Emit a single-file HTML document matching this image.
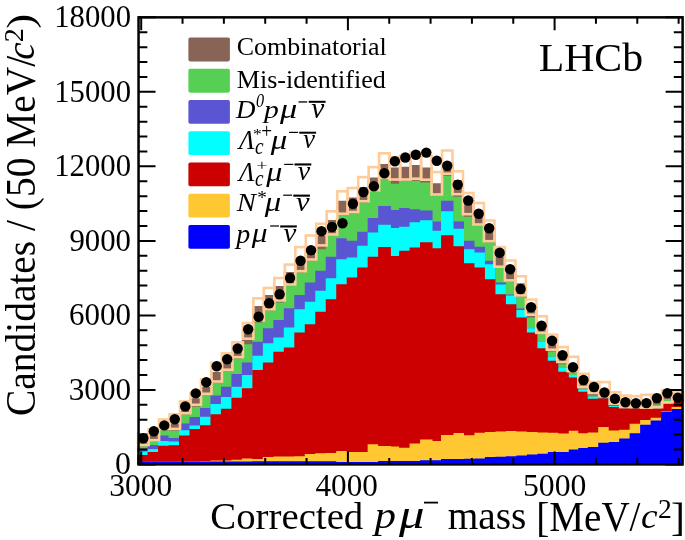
<!DOCTYPE html>
<html><head><meta charset="utf-8">
<style>
html,body{margin:0;padding:0;background:#fff;}
body{width:685px;height:540px;overflow:hidden;}
svg{display:block;}
text{font-family:"Liberation Serif",serif;fill:#000;}
</style></head><body>
<svg width="685" height="540" viewBox="0 0 685 540">
<rect width="685" height="540" fill="#fff"/>
<path d="M137.10,464.40 L137.10,441.00 L147.58,441.00 L147.58,434.50 L158.06,434.50 L158.06,426.00 L168.54,426.00 L168.54,423.60 L179.02,423.60 L179.02,408.00 L189.50,408.00 L189.50,398.30 L199.98,398.30 L199.98,387.00 L210.46,387.00 L210.46,372.00 L220.94,372.00 L220.94,361.50 L231.42,361.50 L231.42,352.00 L241.90,352.00 L241.90,331.00 L252.38,331.00 L252.38,306.00 L262.86,306.00 L262.86,295.00 L273.34,295.00 L273.34,286.00 L283.82,286.00 L283.82,272.00 L294.30,272.00 L294.30,262.00 L304.78,262.00 L304.78,251.00 L315.26,251.00 L315.26,236.00 L325.74,236.00 L325.74,220.00 L336.22,220.00 L336.22,200.80 L346.70,200.80 L346.70,197.50 L357.18,197.50 L357.18,187.00 L367.66,187.00 L367.66,177.50 L378.14,177.50 L378.14,164.00 L390.92,164.00 L390.92,167.50 L399.10,167.50 L399.10,166.70 L409.58,166.70 L409.58,165.00 L420.06,165.00 L420.06,167.50 L432.54,167.50 L432.54,183.30 L441.02,183.30 L441.02,162.00 L453.50,162.00 L453.50,180.00 L463.98,180.00 L463.98,200.00 L474.46,200.00 L474.46,210.00 L484.94,210.00 L484.94,228.00 L495.42,228.00 L495.42,256.70 L505.90,256.70 L505.90,268.00 L516.38,268.00 L516.38,283.30 L526.86,283.30 L526.86,307.00 L537.34,307.00 L537.34,325.00 L547.82,325.00 L547.82,345.00 L558.30,345.00 L558.30,355.00 L568.78,355.00 L568.78,366.00 L578.26,366.00 L578.26,381.00 L587.74,381.00 L587.74,388.00 L598.22,388.00 L598.22,390.00 L608.70,390.00 L608.70,399.00 L619.18,399.00 L619.18,402.00 L629.66,402.00 L629.66,402.00 L640.14,402.00 L640.14,401.00 L650.62,401.00 L650.62,398.00 L661.10,398.00 L661.10,394.00 L671.58,394.00 L671.58,396.00 L682.06,396.00 L682.06,464.40 Z" fill="#876455"/>
<path d="M137.10,464.40 L137.10,446.30 L147.58,446.30 L147.58,441.30 L158.06,441.30 L158.06,430.20 L168.54,430.20 L168.54,430.80 L179.02,430.80 L179.02,414.50 L189.50,414.50 L189.50,406.70 L199.98,406.70 L199.98,395.10 L210.46,395.10 L210.46,382.80 L220.94,382.80 L220.94,371.00 L231.42,371.00 L231.42,358.40 L241.90,358.40 L241.90,344.20 L252.38,344.20 L252.38,322.50 L262.86,322.50 L262.86,310.50 L273.34,310.50 L273.34,302.50 L283.82,302.50 L283.82,285.80 L294.30,285.80 L294.30,272.50 L304.78,272.50 L304.78,260.80 L315.26,260.80 L315.26,249.20 L325.74,249.20 L325.74,235.80 L336.22,235.80 L336.22,215.00 L346.70,215.00 L346.70,213.30 L357.18,213.30 L357.18,202.50 L367.66,202.50 L367.66,191.70 L378.14,191.70 L378.14,179.20 L390.92,179.20 L390.92,183.70 L399.10,183.70 L399.10,180.80 L409.58,180.80 L409.58,180.80 L420.06,180.80 L420.06,182.50 L432.54,182.50 L432.54,195.80 L441.02,195.80 L441.02,175.80 L453.50,175.80 L453.50,196.70 L463.98,196.70 L463.98,216.70 L474.46,216.70 L474.46,225.80 L484.94,225.80 L484.94,242.50 L495.42,242.50 L495.42,268.00 L505.90,268.00 L505.90,282.00 L516.38,282.00 L516.38,296.70 L526.86,296.70 L526.86,317.50 L537.34,317.50 L537.34,334.20 L547.82,334.20 L547.82,351.50 L558.30,351.50 L558.30,364.20 L568.78,364.20 L568.78,372.50 L578.26,372.50 L578.26,388.50 L587.74,388.50 L587.74,395.50 L598.22,395.50 L598.22,397.50 L608.70,397.50 L608.70,405.90 L619.18,405.90 L619.18,408.30 L629.66,408.30 L629.66,408.30 L640.14,408.30 L640.14,408.90 L650.62,408.90 L650.62,404.40 L661.10,404.40 L661.10,399.00 L671.58,399.00 L671.58,401.70 L682.06,401.70 L682.06,464.40 Z" fill="#55d055"/>
<path d="M137.10,464.40 L137.10,448.50 L147.58,448.50 L147.58,445.10 L158.06,445.10 L158.06,435.60 L168.54,435.60 L168.54,438.00 L179.02,438.00 L179.02,423.60 L189.50,423.60 L189.50,416.90 L199.98,416.90 L199.98,408.00 L210.46,408.00 L210.46,395.40 L220.94,395.40 L220.94,386.70 L231.42,386.70 L231.42,374.10 L241.90,374.10 L241.90,362.50 L252.38,362.50 L252.38,341.70 L262.86,341.70 L262.86,328.30 L273.34,328.30 L273.34,320.00 L283.82,320.00 L283.82,308.30 L294.30,308.30 L294.30,295.00 L304.78,295.00 L304.78,282.50 L315.26,282.50 L315.26,270.80 L325.74,270.80 L325.74,256.70 L336.22,256.70 L336.22,238.30 L346.70,238.30 L346.70,240.80 L357.18,240.80 L357.18,231.70 L367.66,231.70 L367.66,218.00 L378.14,218.00 L378.14,206.00 L390.92,206.00 L390.92,209.90 L399.10,209.90 L399.10,208.00 L409.58,208.00 L409.58,209.30 L420.06,209.30 L420.06,210.60 L432.54,210.60 L432.54,221.60 L441.02,221.60 L441.02,200.80 L453.50,200.80 L453.50,221.60 L463.98,221.60 L463.98,240.80 L474.46,240.80 L474.46,246.70 L484.94,246.70 L484.94,260.80 L495.42,260.80 L495.42,282.50 L505.90,282.50 L505.90,294.50 L516.38,294.50 L516.38,308.50 L526.86,308.50 L526.86,328.30 L537.34,328.30 L537.34,341.70 L547.82,341.70 L547.82,356.70 L558.30,356.70 L558.30,367.50 L568.78,367.50 L568.78,375.00 L578.26,375.00 L578.26,389.20 L587.74,389.20 L587.74,396.70 L598.22,396.70 L598.22,397.50 L608.70,397.50 L608.70,405.90 L619.18,405.90 L619.18,408.30 L629.66,408.30 L629.66,408.30 L640.14,408.30 L640.14,408.90 L650.62,408.90 L650.62,408.50 L661.10,408.50 L661.10,403.70 L671.58,403.70 L671.58,401.70 L682.06,401.70 L682.06,464.40 Z" fill="#5a55d2"/>
<path d="M137.10,464.40 L137.10,451.60 L147.58,451.60 L147.58,449.00 L158.06,449.00 L158.06,441.00 L168.54,441.00 L168.54,441.60 L179.02,441.60 L179.02,430.20 L189.50,430.20 L189.50,425.40 L199.98,425.40 L199.98,416.70 L210.46,416.70 L210.46,404.00 L220.94,404.00 L220.94,397.00 L231.42,397.00 L231.42,386.70 L241.90,386.70 L241.90,375.00 L252.38,375.00 L252.38,355.80 L262.86,355.80 L262.86,343.30 L273.34,343.30 L273.34,337.50 L283.82,337.50 L283.82,327.50 L294.30,327.50 L294.30,309.20 L304.78,309.20 L304.78,301.70 L315.26,301.70 L315.26,290.80 L325.74,290.80 L325.74,278.30 L336.22,278.30 L336.22,259.20 L346.70,259.20 L346.70,257.50 L357.18,257.50 L357.18,245.80 L367.66,245.80 L367.66,232.50 L378.14,232.50 L378.14,224.80 L390.92,224.80 L390.92,228.10 L399.10,228.10 L399.10,226.80 L409.58,226.80 L409.58,222.20 L420.06,222.20 L420.06,220.30 L432.54,220.30 L432.54,230.70 L441.02,230.70 L441.02,211.20 L453.50,211.20 L453.50,228.70 L463.98,228.70 L463.98,249.20 L474.46,249.20 L474.46,252.50 L484.94,252.50 L484.94,264.20 L495.42,264.20 L495.42,284.50 L505.90,284.50 L505.90,295.50 L516.38,295.50 L516.38,310.00 L526.86,310.00 L526.86,328.30 L537.34,328.30 L537.34,341.70 L547.82,341.70 L547.82,356.70 L558.30,356.70 L558.30,367.50 L568.78,367.50 L568.78,375.00 L578.26,375.00 L578.26,389.20 L587.74,389.20 L587.74,396.70 L598.22,396.70 L598.22,397.50 L608.70,397.50 L608.70,405.90 L619.18,405.90 L619.18,408.30 L629.66,408.30 L629.66,408.30 L640.14,408.30 L640.14,408.90 L650.62,408.90 L650.62,408.50 L661.10,408.50 L661.10,403.70 L671.58,403.70 L671.58,401.70 L682.06,401.70 L682.06,464.40 Z" fill="#00ffff"/>
<path d="M137.10,464.40 L137.10,455.00 L147.58,455.00 L147.58,452.00 L158.06,452.00 L158.06,445.80 L168.54,445.80 L168.54,445.20 L179.02,445.20 L179.02,435.60 L189.50,435.60 L189.50,429.00 L199.98,429.00 L199.98,425.30 L210.46,425.30 L210.46,414.30 L220.94,414.30 L220.94,408.80 L231.42,408.80 L231.42,397.80 L241.90,397.80 L241.90,388.30 L252.38,388.30 L252.38,370.00 L262.86,370.00 L262.86,362.50 L273.34,362.50 L273.34,351.70 L283.82,351.70 L283.82,347.50 L294.30,347.50 L294.30,332.50 L304.78,332.50 L304.78,324.20 L315.26,324.20 L315.26,311.70 L325.74,311.70 L325.74,299.20 L336.22,299.20 L336.22,284.20 L346.70,284.20 L346.70,277.50 L357.18,277.50 L357.18,267.50 L367.66,267.50 L367.66,256.70 L378.14,256.70 L378.14,246.90 L390.92,246.90 L390.92,256.00 L399.10,256.00 L399.10,250.80 L409.58,250.80 L409.58,247.50 L420.06,247.50 L420.06,242.30 L432.54,242.30 L432.54,248.20 L441.02,248.20 L441.02,235.20 L453.50,235.20 L453.50,246.20 L463.98,246.20 L463.98,263.30 L474.46,263.30 L474.46,267.50 L484.94,267.50 L484.94,279.20 L495.42,279.20 L495.42,294.20 L505.90,294.20 L505.90,304.20 L516.38,304.20 L516.38,317.50 L526.86,317.50 L526.86,332.50 L537.34,332.50 L537.34,348.30 L547.82,348.30 L547.82,360.80 L558.30,360.80 L558.30,371.70 L568.78,371.70 L568.78,377.50 L578.26,377.50 L578.26,391.70 L587.74,391.70 L587.74,398.70 L598.22,398.70 L598.22,398.30 L608.70,398.30 L608.70,407.10 L619.18,407.10 L619.18,408.30 L629.66,408.30 L629.66,408.30 L640.14,408.30 L640.14,408.90 L650.62,408.90 L650.62,408.50 L661.10,408.50 L661.10,403.70 L671.58,403.70 L671.58,401.70 L682.06,401.70 L682.06,464.40 Z" fill="#cc0000"/>
<path d="M137.10,464.40 L137.10,461.80 L147.58,461.80 L147.58,461.80 L158.06,461.80 L158.06,461.50 L168.54,461.50 L168.54,461.40 L179.02,461.40 L179.02,461.30 L189.50,461.30 L189.50,461.20 L199.98,461.20 L199.98,461.00 L210.46,461.00 L210.46,460.60 L220.94,460.60 L220.94,460.40 L231.42,460.40 L231.42,459.80 L241.90,459.80 L241.90,458.60 L252.38,458.60 L252.38,458.90 L262.86,458.90 L262.86,457.00 L273.34,457.00 L273.34,456.50 L283.82,456.50 L283.82,456.50 L294.30,456.50 L294.30,456.20 L304.78,456.20 L304.78,454.10 L315.26,454.10 L315.26,453.30 L325.74,453.30 L325.74,453.00 L336.22,453.00 L336.22,450.90 L346.70,450.90 L346.70,451.90 L357.18,451.90 L357.18,451.90 L367.66,451.90 L367.66,444.30 L378.14,444.30 L378.14,446.00 L390.92,446.00 L390.92,446.50 L399.10,446.50 L399.10,447.70 L409.58,447.70 L409.58,443.50 L420.06,443.50 L420.06,439.60 L432.54,439.60 L432.54,441.00 L441.02,441.00 L441.02,435.10 L453.50,435.10 L453.50,433.10 L463.98,433.10 L463.98,435.20 L474.46,435.20 L474.46,432.70 L484.94,432.70 L484.94,431.90 L495.42,431.90 L495.42,431.50 L505.90,431.50 L505.90,431.00 L516.38,431.00 L516.38,431.50 L526.86,431.50 L526.86,431.90 L537.34,431.90 L537.34,432.40 L547.82,432.40 L547.82,432.70 L558.30,432.70 L558.30,433.50 L568.78,433.50 L568.78,430.80 L578.26,430.80 L578.26,433.20 L587.74,433.20 L587.74,432.40 L598.22,432.40 L598.22,427.10 L608.70,427.10 L608.70,430.60 L619.18,430.60 L619.18,429.70 L629.66,429.70 L629.66,423.80 L640.14,423.80 L640.14,420.10 L650.62,420.10 L650.62,417.80 L661.10,417.80 L661.10,411.50 L671.58,411.50 L671.58,407.00 L682.06,407.00 L682.06,464.40 Z" fill="#ffc832"/>
<path d="M137.10,464.40 L137.10,461.80 L147.58,461.80 L147.58,461.80 L158.06,461.80 L158.06,461.60 L168.54,461.60 L168.54,461.60 L179.02,461.60 L179.02,461.60 L189.50,461.60 L189.50,461.60 L199.98,461.60 L199.98,461.50 L210.46,461.50 L210.46,461.50 L220.94,461.50 L220.94,461.50 L231.42,461.50 L231.42,461.40 L241.90,461.40 L241.90,461.40 L252.38,461.40 L252.38,461.30 L262.86,461.30 L262.86,461.30 L273.34,461.30 L273.34,461.30 L283.82,461.30 L283.82,461.30 L294.30,461.30 L294.30,461.30 L304.78,461.30 L304.78,461.30 L315.26,461.30 L315.26,461.30 L325.74,461.30 L325.74,461.30 L336.22,461.30 L336.22,462.00 L346.70,462.00 L346.70,462.00 L357.18,462.00 L357.18,462.00 L367.66,462.00 L367.66,462.00 L378.14,462.00 L378.14,461.10 L390.92,461.10 L390.92,461.10 L399.10,461.10 L399.10,461.10 L409.58,461.10 L409.58,461.10 L420.06,461.10 L420.06,460.30 L432.54,460.30 L432.54,460.30 L441.02,460.30 L441.02,459.10 L453.50,459.10 L453.50,459.10 L463.98,459.10 L463.98,458.70 L474.46,458.70 L474.46,458.40 L484.94,458.40 L484.94,457.00 L495.42,457.00 L495.42,456.70 L505.90,456.70 L505.90,456.20 L516.38,456.20 L516.38,455.40 L526.86,455.40 L526.86,454.50 L537.34,454.50 L537.34,453.70 L547.82,453.70 L547.82,452.00 L558.30,452.00 L558.30,452.00 L568.78,452.00 L568.78,449.60 L578.26,449.60 L578.26,448.00 L587.74,448.00 L587.74,447.10 L598.22,447.10 L598.22,442.80 L608.70,442.80 L608.70,441.90 L619.18,441.90 L619.18,438.40 L629.66,438.40 L629.66,433.20 L640.14,433.20 L640.14,424.80 L650.62,424.80 L650.62,420.60 L661.10,420.60 L661.10,411.90 L671.58,411.90 L671.58,408.90 L682.06,408.90 L682.06,464.40 Z" fill="#0000ff"/>
<rect x="138.10" y="434.60" width="10.48" height="10.40" fill="none" stroke="#ffcc99" stroke-width="2.6"/>
<rect x="148.58" y="429.30" width="10.48" height="10.90" fill="none" stroke="#ffcc99" stroke-width="2.6"/>
<rect x="159.06" y="419.40" width="10.48" height="9.50" fill="none" stroke="#ffcc99" stroke-width="2.6"/>
<rect x="169.54" y="414.30" width="10.48" height="14.60" fill="none" stroke="#ffcc99" stroke-width="2.6"/>
<rect x="180.02" y="401.40" width="10.48" height="11.80" fill="none" stroke="#ffcc99" stroke-width="2.6"/>
<rect x="190.50" y="392.90" width="10.48" height="11.90" fill="none" stroke="#ffcc99" stroke-width="2.6"/>
<rect x="200.98" y="379.40" width="10.48" height="14.40" fill="none" stroke="#ffcc99" stroke-width="2.6"/>
<rect x="211.46" y="362.80" width="10.48" height="18.70" fill="none" stroke="#ffcc99" stroke-width="2.6"/>
<rect x="221.94" y="353.40" width="10.48" height="16.30" fill="none" stroke="#ffcc99" stroke-width="2.6"/>
<rect x="232.42" y="342.30" width="10.48" height="14.80" fill="none" stroke="#ffcc99" stroke-width="2.6"/>
<rect x="242.90" y="323.00" width="10.48" height="15.70" fill="none" stroke="#ffcc99" stroke-width="2.6"/>
<rect x="253.38" y="298.30" width="10.48" height="22.10" fill="none" stroke="#ffcc99" stroke-width="2.6"/>
<rect x="263.86" y="288.00" width="10.48" height="21.20" fill="none" stroke="#ffcc99" stroke-width="2.6"/>
<rect x="274.34" y="278.00" width="10.48" height="22.40" fill="none" stroke="#ffcc99" stroke-width="2.6"/>
<rect x="284.82" y="264.60" width="10.48" height="19.90" fill="none" stroke="#ffcc99" stroke-width="2.6"/>
<rect x="295.30" y="247.10" width="10.48" height="24.10" fill="none" stroke="#ffcc99" stroke-width="2.6"/>
<rect x="305.78" y="235.50" width="10.48" height="24.00" fill="none" stroke="#ffcc99" stroke-width="2.6"/>
<rect x="316.26" y="223.80" width="10.48" height="21.60" fill="none" stroke="#ffcc99" stroke-width="2.6"/>
<rect x="326.74" y="211.30" width="10.48" height="23.20" fill="none" stroke="#ffcc99" stroke-width="2.6"/>
<rect x="337.22" y="191.30" width="10.48" height="22.40" fill="none" stroke="#ffcc99" stroke-width="2.6"/>
<rect x="347.70" y="188.00" width="10.48" height="24.00" fill="none" stroke="#ffcc99" stroke-width="2.6"/>
<rect x="358.18" y="177.10" width="10.48" height="24.10" fill="none" stroke="#ffcc99" stroke-width="2.6"/>
<rect x="368.66" y="167.10" width="10.48" height="23.30" fill="none" stroke="#ffcc99" stroke-width="2.6"/>
<rect x="379.14" y="153.30" width="10.48" height="24.60" fill="none" stroke="#ffcc99" stroke-width="2.6"/>
<rect x="389.62" y="157.10" width="10.48" height="22.40" fill="none" stroke="#ffcc99" stroke-width="2.6"/>
<rect x="400.10" y="155.50" width="10.48" height="24.00" fill="none" stroke="#ffcc99" stroke-width="2.6"/>
<rect x="410.58" y="152.10" width="10.48" height="26.60" fill="none" stroke="#ffcc99" stroke-width="2.6"/>
<rect x="421.06" y="155.80" width="10.48" height="23.90" fill="none" stroke="#ffcc99" stroke-width="2.6"/>
<rect x="431.54" y="172.10" width="10.48" height="22.40" fill="none" stroke="#ffcc99" stroke-width="2.6"/>
<rect x="442.02" y="150.50" width="10.48" height="23.20" fill="none" stroke="#ffcc99" stroke-width="2.6"/>
<rect x="452.50" y="171.30" width="10.48" height="22.90" fill="none" stroke="#ffcc99" stroke-width="2.6"/>
<rect x="462.98" y="193.00" width="10.48" height="21.20" fill="none" stroke="#ffcc99" stroke-width="2.6"/>
<rect x="473.46" y="203.00" width="10.48" height="21.50" fill="none" stroke="#ffcc99" stroke-width="2.6"/>
<rect x="483.94" y="220.50" width="10.48" height="20.70" fill="none" stroke="#ffcc99" stroke-width="2.6"/>
<rect x="494.42" y="247.10" width="10.48" height="19.60" fill="none" stroke="#ffcc99" stroke-width="2.6"/>
<rect x="504.90" y="260.50" width="10.48" height="19.90" fill="none" stroke="#ffcc99" stroke-width="2.6"/>
<rect x="515.38" y="276.30" width="10.48" height="19.10" fill="none" stroke="#ffcc99" stroke-width="2.6"/>
<rect x="525.86" y="299.60" width="10.48" height="15.10" fill="none" stroke="#ffcc99" stroke-width="2.6"/>
<rect x="536.34" y="316.30" width="10.48" height="16.60" fill="none" stroke="#ffcc99" stroke-width="2.6"/>
<rect x="546.82" y="334.60" width="10.48" height="15.10" fill="none" stroke="#ffcc99" stroke-width="2.6"/>
<rect x="557.30" y="347.10" width="10.48" height="14.90" fill="none" stroke="#ffcc99" stroke-width="2.6"/>
<rect x="567.78" y="356.80" width="10.48" height="14.40" fill="none" stroke="#ffcc99" stroke-width="2.6"/>
<rect x="578.26" y="373.80" width="10.48" height="13.20" fill="none" stroke="#ffcc99" stroke-width="2.6"/>
<rect x="588.74" y="382.10" width="10.48" height="10.80" fill="none" stroke="#ffcc99" stroke-width="2.6"/>
<rect x="599.22" y="382.10" width="10.48" height="14.10" fill="none" stroke="#ffcc99" stroke-width="2.6"/>
<rect x="609.70" y="392.30" width="10.48" height="11.40" fill="none" stroke="#ffcc99" stroke-width="2.6"/>
<rect x="620.18" y="395.60" width="10.48" height="11.40" fill="none" stroke="#ffcc99" stroke-width="2.6"/>
<rect x="630.66" y="396.30" width="10.48" height="10.70" fill="none" stroke="#ffcc99" stroke-width="2.6"/>
<rect x="641.14" y="394.80" width="10.48" height="12.80" fill="none" stroke="#ffcc99" stroke-width="2.6"/>
<rect x="651.62" y="394.60" width="10.48" height="12.60" fill="none" stroke="#ffcc99" stroke-width="2.6"/>
<rect x="662.10" y="390.20" width="10.48" height="12.20" fill="none" stroke="#ffcc99" stroke-width="2.6"/>
<rect x="672.58" y="392.40" width="10.48" height="8.00" fill="none" stroke="#ffcc99" stroke-width="2.6"/>
<circle cx="143.34" cy="438.30" r="5.2" fill="#000"/>
<circle cx="153.82" cy="431.30" r="5.2" fill="#000"/>
<circle cx="164.30" cy="425.40" r="5.2" fill="#000"/>
<circle cx="174.78" cy="419.30" r="5.2" fill="#000"/>
<circle cx="185.26" cy="406.40" r="5.2" fill="#000"/>
<circle cx="195.74" cy="393.40" r="5.2" fill="#000"/>
<circle cx="206.22" cy="382.30" r="5.2" fill="#000"/>
<circle cx="216.70" cy="366.30" r="5.2" fill="#000"/>
<circle cx="227.18" cy="359.20" r="5.2" fill="#000"/>
<circle cx="237.66" cy="348.50" r="5.2" fill="#000"/>
<circle cx="248.14" cy="329.20" r="5.2" fill="#000"/>
<circle cx="258.62" cy="316.70" r="5.2" fill="#000"/>
<circle cx="269.10" cy="303.30" r="5.2" fill="#000"/>
<circle cx="279.58" cy="294.20" r="5.2" fill="#000"/>
<circle cx="290.06" cy="278.00" r="5.2" fill="#000"/>
<circle cx="300.54" cy="260.80" r="5.2" fill="#000"/>
<circle cx="311.02" cy="250.30" r="5.2" fill="#000"/>
<circle cx="321.50" cy="231.30" r="5.2" fill="#000"/>
<circle cx="331.98" cy="227.00" r="5.2" fill="#000"/>
<circle cx="342.46" cy="223.30" r="5.2" fill="#000"/>
<circle cx="352.94" cy="203.70" r="5.2" fill="#000"/>
<circle cx="363.42" cy="192.00" r="5.2" fill="#000"/>
<circle cx="373.90" cy="186.30" r="5.2" fill="#000"/>
<circle cx="384.38" cy="173.30" r="5.2" fill="#000"/>
<circle cx="394.86" cy="161.30" r="5.2" fill="#000"/>
<circle cx="405.34" cy="157.50" r="5.2" fill="#000"/>
<circle cx="415.82" cy="154.70" r="5.2" fill="#000"/>
<circle cx="426.30" cy="152.60" r="5.2" fill="#000"/>
<circle cx="436.78" cy="160.80" r="5.2" fill="#000"/>
<circle cx="447.26" cy="165.80" r="5.2" fill="#000"/>
<circle cx="457.74" cy="184.70" r="5.2" fill="#000"/>
<circle cx="468.22" cy="200.50" r="5.2" fill="#000"/>
<circle cx="478.70" cy="213.70" r="5.2" fill="#000"/>
<circle cx="489.18" cy="228.30" r="5.2" fill="#000"/>
<circle cx="499.66" cy="252.80" r="5.2" fill="#000"/>
<circle cx="510.14" cy="269.20" r="5.2" fill="#000"/>
<circle cx="520.62" cy="289.00" r="5.2" fill="#000"/>
<circle cx="531.10" cy="307.30" r="5.2" fill="#000"/>
<circle cx="541.58" cy="325.80" r="5.2" fill="#000"/>
<circle cx="552.06" cy="340.80" r="5.2" fill="#000"/>
<circle cx="562.54" cy="355.30" r="5.2" fill="#000"/>
<circle cx="573.02" cy="367.20" r="5.2" fill="#000"/>
<circle cx="583.50" cy="380.00" r="5.2" fill="#000"/>
<circle cx="593.98" cy="387.00" r="5.2" fill="#000"/>
<circle cx="604.46" cy="392.50" r="5.2" fill="#000"/>
<circle cx="614.94" cy="398.80" r="5.2" fill="#000"/>
<circle cx="625.42" cy="402.30" r="5.2" fill="#000"/>
<circle cx="635.90" cy="403.30" r="5.2" fill="#000"/>
<circle cx="646.38" cy="403.10" r="5.2" fill="#000"/>
<circle cx="656.86" cy="398.10" r="5.2" fill="#000"/>
<circle cx="667.34" cy="393.10" r="5.2" fill="#000"/>
<circle cx="677.82" cy="397.80" r="5.2" fill="#000"/>
<rect x="138.55" y="17.35" width="544.05" height="447.05" fill="none" stroke="#000" stroke-width="2.5"/>
<path d="M138.55,464.40 h17.0 M682.60,464.40 h-17.0 M138.55,449.50 h8.8 M682.60,449.50 h-8.8 M138.55,434.60 h8.8 M682.60,434.60 h-8.8 M138.55,419.69 h8.8 M682.60,419.69 h-8.8 M138.55,404.79 h8.8 M682.60,404.79 h-8.8 M138.55,389.89 h17.0 M682.60,389.89 h-17.0 M138.55,374.99 h8.8 M682.60,374.99 h-8.8 M138.55,360.09 h8.8 M682.60,360.09 h-8.8 M138.55,345.19 h8.8 M682.60,345.19 h-8.8 M138.55,330.28 h8.8 M682.60,330.28 h-8.8 M138.55,315.38 h17.0 M682.60,315.38 h-17.0 M138.55,300.48 h8.8 M682.60,300.48 h-8.8 M138.55,285.58 h8.8 M682.60,285.58 h-8.8 M138.55,270.68 h8.8 M682.60,270.68 h-8.8 M138.55,255.78 h8.8 M682.60,255.78 h-8.8 M138.55,240.88 h17.0 M682.60,240.88 h-17.0 M138.55,225.97 h8.8 M682.60,225.97 h-8.8 M138.55,211.07 h8.8 M682.60,211.07 h-8.8 M138.55,196.17 h8.8 M682.60,196.17 h-8.8 M138.55,181.27 h8.8 M682.60,181.27 h-8.8 M138.55,166.37 h17.0 M682.60,166.37 h-17.0 M138.55,151.47 h8.8 M682.60,151.47 h-8.8 M138.55,136.56 h8.8 M682.60,136.56 h-8.8 M138.55,121.66 h8.8 M682.60,121.66 h-8.8 M138.55,106.76 h8.8 M682.60,106.76 h-8.8 M138.55,91.86 h17.0 M682.60,91.86 h-17.0 M138.55,76.96 h8.8 M682.60,76.96 h-8.8 M138.55,62.06 h8.8 M682.60,62.06 h-8.8 M138.55,47.15 h8.8 M682.60,47.15 h-8.8 M138.55,32.25 h8.8 M682.60,32.25 h-8.8 M138.55,17.35 h17.0 M682.60,17.35 h-17.0 M141.20,464.40 v-13.0 M141.20,17.35 v13.0 M182.54,464.40 v-6.5 M182.54,17.35 v6.5 M223.88,464.40 v-6.5 M223.88,17.35 v6.5 M265.22,464.40 v-6.5 M265.22,17.35 v6.5 M306.56,464.40 v-6.5 M306.56,17.35 v6.5 M347.90,464.40 v-13.0 M347.90,17.35 v13.0 M389.24,464.40 v-6.5 M389.24,17.35 v6.5 M430.58,464.40 v-6.5 M430.58,17.35 v6.5 M471.92,464.40 v-6.5 M471.92,17.35 v6.5 M513.26,464.40 v-6.5 M513.26,17.35 v6.5 M554.60,464.40 v-13.0 M554.60,17.35 v13.0 M595.94,464.40 v-6.5 M595.94,17.35 v6.5 M637.28,464.40 v-6.5 M637.28,17.35 v6.5 M678.62,464.40 v-6.5 M678.62,17.35 v6.5" stroke="#000" stroke-width="2" fill="none"/>
<rect x="188.4" y="37.50" width="41.5" height="23.9" rx="1.8" fill="#876455"/>
<rect x="188.4" y="68.73" width="41.5" height="23.9" rx="1.8" fill="#55d055"/>
<rect x="188.4" y="99.96" width="41.5" height="23.9" rx="1.8" fill="#5a55d2"/>
<rect x="188.4" y="131.19" width="41.5" height="23.9" rx="1.8" fill="#00ffff"/>
<rect x="188.4" y="162.42" width="41.5" height="23.9" rx="1.8" fill="#cc0000"/>
<rect x="188.4" y="193.65" width="41.5" height="23.9" rx="1.8" fill="#ffc832"/>
<rect x="188.4" y="224.88" width="41.5" height="23.9" rx="1.8" fill="#0000ff"/>
<g style="will-change:transform">
<text transform="matrix(0.3190,0,0,0.3118,115.12,474.18)" style="font-size:100px;">0</text>
<text transform="matrix(0.3115,0,0,0.3118,68.74,399.67)" style="font-size:100px;">3000</text>
<text transform="matrix(0.3099,0,0,0.3118,69.06,325.16)" style="font-size:100px;">6000</text>
<text transform="matrix(0.3083,0,0,0.3118,69.38,250.65)" style="font-size:100px;">9000</text>
<text transform="matrix(0.3072,0,0,0.3118,54.24,176.14)" style="font-size:100px;">12000</text>
<text transform="matrix(0.3072,0,0,0.3118,54.24,101.63)" style="font-size:100px;">15000</text>
<text transform="matrix(0.3072,0,0,0.3118,54.24,27.13)" style="font-size:100px;">18000</text>
<text transform="matrix(0.3147,0,0,0.3176,109.23,495.86)" style="font-size:100px;">3000</text>
<text transform="matrix(0.3119,0,0,0.3176,315.48,495.86)" style="font-size:100px;">4000</text>
<text transform="matrix(0.3168,0,0,0.3176,523.00,495.86)" style="font-size:100px;">5000</text>
<text transform="matrix(0.4181,0,0,0.4056,538.65,70.79)" style="font-size:100px;">LHCb</text>
<text transform="matrix(0.2596,0,0,0.2596,236.76,55.48)" style="font-size:100px;">Combinatorial</text>
<text transform="matrix(0.2606,0,0,0.2606,236.82,87.64)" style="font-size:100px;">Mis-identified</text>
<text transform="matrix(0.2694,0,0,0.2606,236.07,117.84)" style="font-size:100px;font-style:italic;">D</text>
<text transform="matrix(0.1622,0,0,0.1926,255.95,106.71)" style="font-size:100px;font-style:italic;">0</text>
<text transform="matrix(0.2962,0,0,0.2588,263.88,118.16)" style="font-size:100px;font-style:italic;">p</text>
<text transform="matrix(0.3447,0,0,0.2776,279.90,118.17)" style="font-size:100px;font-style:italic;">μ</text>
<text transform="matrix(0.2930,0,0,0.2851,311.21,117.71)" style="font-size:100px;font-style:italic;">ν</text>
<text transform="matrix(0.2574,0,0,0.2727,238.96,149.10)" style="font-size:100px;font-style:italic;">Λ</text>
<text transform="matrix(0.1750,0,0,0.1541,253.12,138.71)" style="font-size:100px;">*</text>
<text transform="matrix(0.1915,0,0,0.2000,261.24,138.00)" style="font-size:100px;">+</text>
<text transform="matrix(0.1925,0,0,0.2208,255.12,153.78)" style="font-size:100px;font-style:italic;">c</text>
<text transform="matrix(0.3298,0,0,0.2746,270.80,148.63)" style="font-size:100px;font-style:italic;">μ</text>
<text transform="matrix(0.2651,0,0,0.2702,303.23,148.23)" style="font-size:100px;font-style:italic;">ν</text>
<text transform="matrix(0.2574,0,0,0.2727,238.96,181.20)" style="font-size:100px;font-style:italic;">Λ</text>
<text transform="matrix(0.2000,0,0,0.1404,256.30,169.50)" style="font-size:100px;">+</text>
<text transform="matrix(0.1925,0,0,0.2229,255.12,185.88)" style="font-size:100px;font-style:italic;">c</text>
<text transform="matrix(0.3213,0,0,0.2687,266.30,180.86)" style="font-size:100px;font-style:italic;">μ</text>
<text transform="matrix(0.2791,0,0,0.2681,297.82,180.13)" style="font-size:100px;font-style:italic;">ν</text>
<text transform="matrix(0.2875,0,0,0.2606,236.69,211.44)" style="font-size:100px;font-style:italic;">N</text>
<text transform="matrix(0.1925,0,0,0.1919,257.34,204.07)" style="font-size:100px;">*</text>
<text transform="matrix(0.3277,0,0,0.2731,264.80,211.26)" style="font-size:100px;font-style:italic;">μ</text>
<text transform="matrix(0.3047,0,0,0.2766,295.90,211.42)" style="font-size:100px;font-style:italic;">ν</text>
<text transform="matrix(0.2792,0,0,0.2691,236.28,242.75)" style="font-size:100px;font-style:italic;">p</text>
<text transform="matrix(0.3149,0,0,0.2657,251.80,242.32)" style="font-size:100px;font-style:italic;">μ</text>
<text transform="matrix(0.2884,0,0,0.2766,283.51,242.22)" style="font-size:100px;font-style:italic;">ν</text>
<text transform="matrix(0.3879,0,0,0.3879,210.35,528.62)" style="font-size:100px;">Corrected</text>
<text transform="matrix(0.4302,0,0,0.3868,374.58,528.38)" style="font-size:100px;font-style:italic;">p</text>
<text transform="matrix(0.5085,0,0,0.4269,398.90,528.04)" style="font-size:100px;font-style:italic;">μ</text>
<text transform="matrix(0.3933,0,0,0.3933,447.71,528.61)" style="font-size:100px;">mass</text>
<text transform="matrix(0.3907,0,0,0.4265,536.36,530.96)" style="font-size:100px;">[MeV/</text>
<text transform="matrix(0.3725,0,0,0.3563,640.98,528.34)" style="font-size:100px;font-style:italic;">c</text>
<text transform="matrix(0.2756,0,0,0.2672,658.10,517.93)" style="font-size:100px;">2</text>
<text transform="matrix(0.4182,0,0,0.4072,671.03,530.91)" style="font-size:100px;">]</text>
<rect x="298.50" y="101.30" width="8.60" height="1.30"/>
<rect x="308.70" y="100.80" width="16.90" height="2.00"/>
<rect x="289.00" y="131.80" width="9.10" height="1.20"/>
<rect x="299.30" y="131.70" width="16.80" height="2.00"/>
<rect x="284.20" y="163.80" width="9.10" height="1.20"/>
<rect x="294.50" y="163.40" width="16.80" height="2.10"/>
<rect x="283.20" y="194.60" width="8.90" height="1.20"/>
<rect x="293.30" y="194.60" width="16.60" height="2.10"/>
<rect x="270.10" y="225.40" width="8.90" height="1.20"/>
<rect x="280.20" y="225.40" width="16.60" height="2.10"/>
<rect x="424.00" y="501.70" width="14.00" height="1.80"/>
<text transform="rotate(-90) matrix(0.3943,0,0,0.4267,-415.98,35.04)" style="font-size:100px;">Candidates / (50 MeV/</text>
<text transform="rotate(-90) matrix(0.3900,0,0,0.3917,-59.77,34.01)" style="font-size:100px;font-style:italic;">c</text>
<text transform="rotate(-90) matrix(0.2829,0,0,0.2701,-42.23,23.03)" style="font-size:100px;">2</text>
<text transform="rotate(-90) matrix(0.4500,0,0,0.3889,-28.85,33.33)" style="font-size:100px;">)</text>
</g>
</svg>
</body></html>
